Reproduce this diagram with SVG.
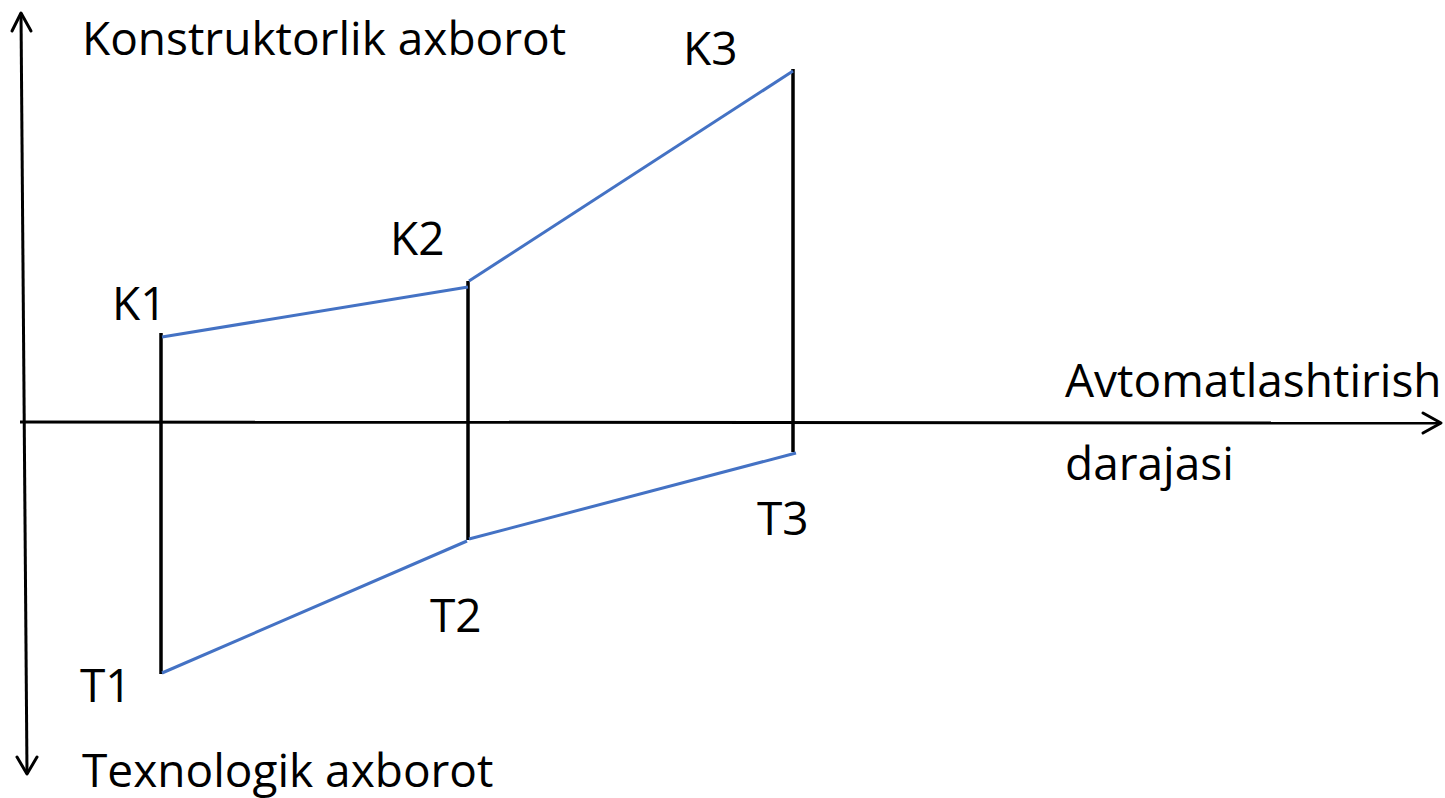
<svg xmlns="http://www.w3.org/2000/svg" width="1445" height="798" viewBox="0 0 1445 798">
<style>
text{font-family:"Open Sans","Noto Sans","Liberation Sans",sans-serif;font-size:46px;fill:#000}
.ax{stroke:#000;stroke-width:3;fill:none}
.bk{stroke:#000;stroke-width:3.5;fill:none}
.bl{stroke:#4472C4;stroke-width:3;fill:none}
.head{stroke:#000;stroke-width:3;fill:none;stroke-linecap:round;stroke-linejoin:round}
</style>
<rect width="1445" height="798" fill="#fff"/>
<g id="connectors">
<line class="ax" x1="21" y1="13" x2="27" y2="774"/>
<polyline class="head" points="12,31 21,13 31,31"/>
<polyline class="head" points="17,757 27,774 37,757"/>
<line class="ax" x1="20" y1="422" x2="1441" y2="423"/>
<polyline class="head" points="1423,413 1441,423 1423,433"/>
<line class="bk" x1="161" y1="333" x2="161" y2="674"/>
<line class="bk" x1="468" y1="281" x2="468" y2="540"/>
<line class="bk" x1="793" y1="69" x2="793" y2="452"/>
<line class="bl" x1="162" y1="337" x2="468" y2="287"/>
<line class="bl" x1="469" y1="281" x2="793" y2="71"/>
<line class="bl" x1="796" y1="453" x2="469" y2="539"/>
<line class="bl" x1="467" y1="541" x2="162" y2="673"/>
</g>
<g id="labels">
<text x="82" y="55">Konstruktorlik axborot</text>
<text x="82" y="787">Texnologik axborot</text>
<text x="1065" y="397">Avtomatlashtirish</text>
<text x="1065" y="480">darajasi</text>
</g>
<g id="K1"><text x="112" y="320">K1</text></g>
<g id="K2"><text x="390" y="255">K2</text></g>
<g id="K3"><text x="683" y="65">K3</text></g>
<g id="T1"><text x="80" y="702">T1</text></g>
<g id="T2"><text x="430" y="632">T2</text></g>
<g id="T3"><text x="757" y="535">T3</text></g>
</svg>
